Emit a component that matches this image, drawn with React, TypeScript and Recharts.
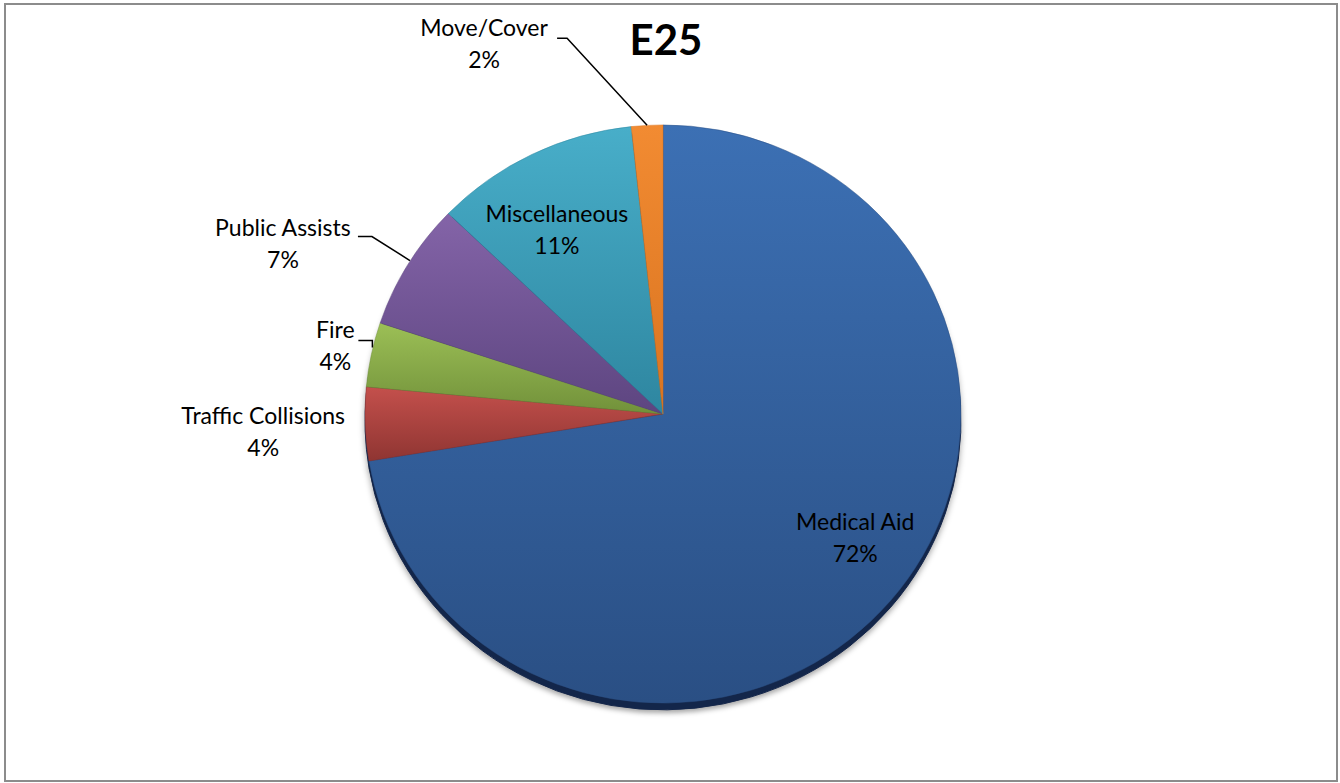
import { Cell, Pie, PieChart } from "recharts";

const CATEGORIES = [
  "Medical Aid",
  "Traffic Collisions",
  "Fire",
  "Public Assists",
  "Miscellaneous",
  "Move/Cover",
];
const SHARES = [72.4, 4.1, 3.6, 7.1, 11.1, 1.7];
const COLORS_TOP = ["#3c70b4", "#c4504c", "#9cbf56", "#8464a8", "#48aec9", "#f28b32"];
const COLORS_BOTTOM = ["#2a4f84", "#8f3532", "#71913a", "#5d4580", "#2e86a0", "#d97420"];

const TITLE = "E25";

// label placement relative to the slice edge point (text centre + leader)
const LABEL_LAYOUT: { dx: number; dy: number; leader?: [number, number][] }[] = [
  { dx: -35, dy: -71 },
  { dx: -102, dy: 0 },
  { dx: -36, dy: -16, leader: [[1, -7], [1, -14], [-13, -14]] },
  { dx: -125, dy: -29, leader: [[2, -4], [-36, -28], [-50, -28]] },
  { dx: 25, dy: 68 },
  { dx: -163, dy: -89, leader: [[0, 0], [-80, -87], [-90, -87]] },
];

const W = 1340;
const H = 783;
const CX = 663;
const CY = 414;
const R = 298;
const SQUASH = 0.97;
const RAD = Math.PI / 180;
const FONT = "Lato, 'Open Sans', sans-serif";

const data = CATEGORIES.map((name, i) => ({ name, value: SHARES[i] }));

const renderLabel = (p: any) => {
  const { cx, cy, midAngle, outerRadius, index, percent } = p;
  const a = -midAngle * RAD;
  const ex = cx + outerRadius * Math.cos(a);
  const ey = cy + outerRadius * Math.sin(a) * SQUASH;
  const lay = LABEL_LAYOUT[index];
  const tx = ex + lay.dx;
  const ty = ey + lay.dy;
  return (
    <g key={`lbl-${index}`}>
      {lay.leader && (
        <polyline
          points={lay.leader.map(([x, y]) => `${ex + x},${ey + y}`).join(" ")}
          fill="none"
          stroke="#000"
          strokeWidth={1.5}
        />
      )}
      <text x={tx} y={ty} textAnchor="middle" fontSize={23} fill="#000" fontFamily={FONT}>
        <tspan x={tx}>{CATEGORIES[index]}</tspan>
        <tspan x={tx} dy={32}>
          {Math.round(percent * 100)}%
        </tspan>
      </text>
    </g>
  );
};

export default function App() {
  return (
    <div style={{ position: "absolute", left: 0, top: 0, width: W, height: H, background: "#fff" }}>
      <style>{`
        .recharts-sector { transform-origin: ${CX}px ${CY}px; transform: scaleY(${SQUASH}); }
        .pie-shadow .recharts-sector { filter: drop-shadow(0 3px 3px rgba(0,0,0,0.35)); }
      `}</style>
      <div
        style={{
          position: "absolute",
          left: 4,
          top: 3,
          width: W - 10,
          height: H - 8,
          border: "2px solid #8c8c8c",
        }}
      />
      <div style={{ position: "absolute", left: 0, top: 0 }}>
        <PieChart width={W} height={H} margin={{ top: 0, right: 0, bottom: 0, left: 0 }}>
          <defs>
            {COLORS_TOP.map((c, i) => (
              <linearGradient key={i} id={`grad-${i}`} x1="0" y1="0" x2="0" y2="1">
                <stop offset="0%" stopColor={c} />
                <stop offset="100%" stopColor={COLORS_BOTTOM[i]} />
              </linearGradient>
            ))}
          </defs>
          <Pie
            className="pie-shadow"
            data={data}
            dataKey="value"
            nameKey="name"
            cx={CX}
            cy={CY + 7}
            outerRadius={R}
            startAngle={90}
            endAngle={-270}
            stroke="#13264a"
            fill="#13264a"
            label={false}
            labelLine={false}
            isAnimationActive={false}
          />
          <Pie
            className="pie-main"
            data={data}
            dataKey="value"
            nameKey="name"
            cx={CX}
            cy={CY}
            outerRadius={R}
            startAngle={90}
            endAngle={-270}
            label={renderLabel}
            labelLine={false}
            isAnimationActive={false}
          >
            {data.map((d, i) => (
              <Cell key={d.name} fill={`url(#grad-${i})`} stroke={COLORS_BOTTOM[i]} strokeWidth={0.5} />
            ))}
          </Pie>
        </PieChart>
      </div>
      <svg width={W} height={80} style={{ position: "absolute", left: 0, top: 0 }}>
        <text x={666} y={55} textAnchor="middle" fontSize={42} fontWeight={700} fontFamily={FONT} fill="#000">
          {TITLE}
        </text>
      </svg>
    </div>
  );
}
